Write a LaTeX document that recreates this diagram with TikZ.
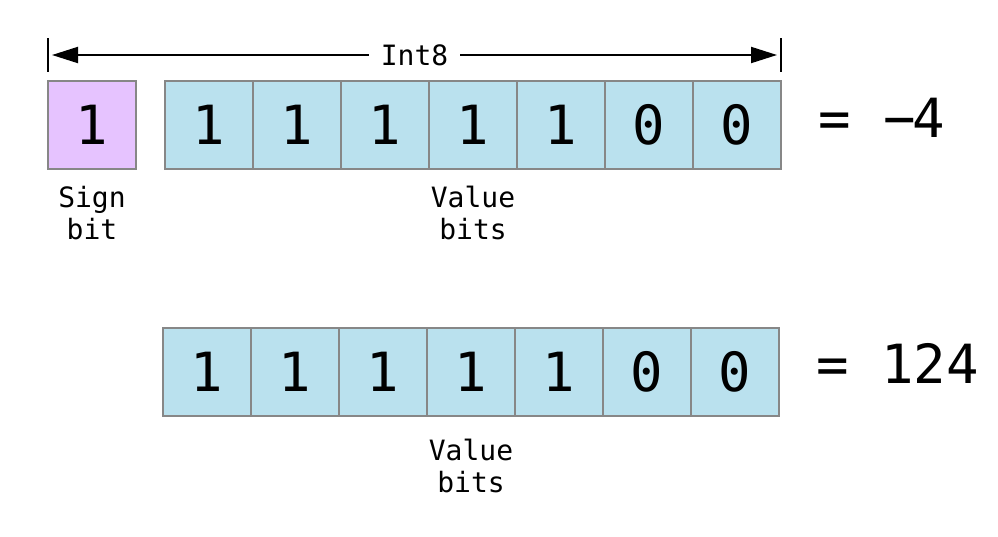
\documentclass[tikz,border=0pt]{standalone}
\usepackage{fontspec}
\usepackage{xcolor}
\usepackage{tikz}
\usetikzlibrary{
  arrows.meta,
  positioning,
  calc
}
\newfontfamily\bitmono{DejaVu Sans Mono}
\definecolor{signpurple}{RGB}{230, 195, 255}
\definecolor{valueblue}{RGB}{186, 225, 238}
\definecolor{cellgray}{RGB}{135, 135, 135}
\tikzset{
  bitcell/.style = {
    rectangle, draw=cellgray, line width=1.5pt,
    fill=#1, minimum size=88pt, inner sep=0pt, outer sep=0pt,
    font=\bitmono\fontsize{54}{54}\selectfont
  },
  bitcell/.default = valueblue,
  eqn/.style = {
    anchor=base west, inner sep=0pt,
    font=\bitmono\fontsize{54}{54}\selectfont
  },
  lbl/.style  = {align=center, inner sep=0pt,
    font=\bitmono\fontsize{28}{32}\selectfont},
  arr/.style  = {-{Triangle[length=26pt, width=16pt]}, line width=2pt,
    shorten >=4pt},
  tick/.style = {line width=2.5pt},
}

\begin{document}
\begin{tikzpicture}[x=1pt, y=1pt]
  \useasboundingbox (0,0) rectangle (998,-536);

  % Int8: sign bit + value bits
  \node[bitcell=signpurple] (sign) at (92,-125) {1};
  \node[bitcell, right=29pt of sign] (v1) {1};
  \node[bitcell, right=0pt of v1] (v2) {1};
  \node[bitcell, right=0pt of v2] (v3) {1};
  \node[bitcell, right=0pt of v3] (v4) {1};
  \node[bitcell, right=0pt of v4] (v5) {1};
  \node[bitcell, right=0pt of v5] (v6) {0};
  \node[bitcell, right=0pt of v6] (v7) {0};
  \node[eqn] (eqsigned) at ([xshift=37pt, yshift=-12pt]v7.east)
    {= −\kern-3pt4};
  \node[lbl, below=17pt of sign] (signlbl) {Sign\\bit};
  \node[lbl, below=17pt of v4] (vallbl) {Value\\bits};

  % width bracket
  \coordinate (lend) at ([yshift=26pt]sign.north west);
  \coordinate (rend) at ([yshift=26pt]v7.north east);
  \node[lbl, fill=white, inner xsep=12pt] (int8)
    at ($(lend)!0.5!(rend)$) {Int8};
  \draw[tick] ([yshift=17pt]lend) -- ([yshift=-17pt]lend);
  \draw[tick] ([yshift=17pt]rend) -- ([yshift=-17pt]rend);
  \draw[arr] (int8) -- (lend);
  \draw[arr] (int8) -- (rend);

  % same bits read without sign
  \node[bitcell] (w1) at (207,-372) {1};
  \node[bitcell, right=0pt of w1] (w2) {1};
  \node[bitcell, right=0pt of w2] (w3) {1};
  \node[bitcell, right=0pt of w3] (w4) {1};
  \node[bitcell, right=0pt of w4] (w5) {1};
  \node[bitcell, right=0pt of w5] (w6) {0};
  \node[bitcell, right=0pt of w6] (w7) {0};
  \node[eqn] (equnsigned) at ([xshift=37pt, yshift=-11pt]w7.east)
    {= 124};
  \node[lbl, below=23pt of w4] (wvallbl) {Value\\bits};

\end{tikzpicture}
\end{document}
